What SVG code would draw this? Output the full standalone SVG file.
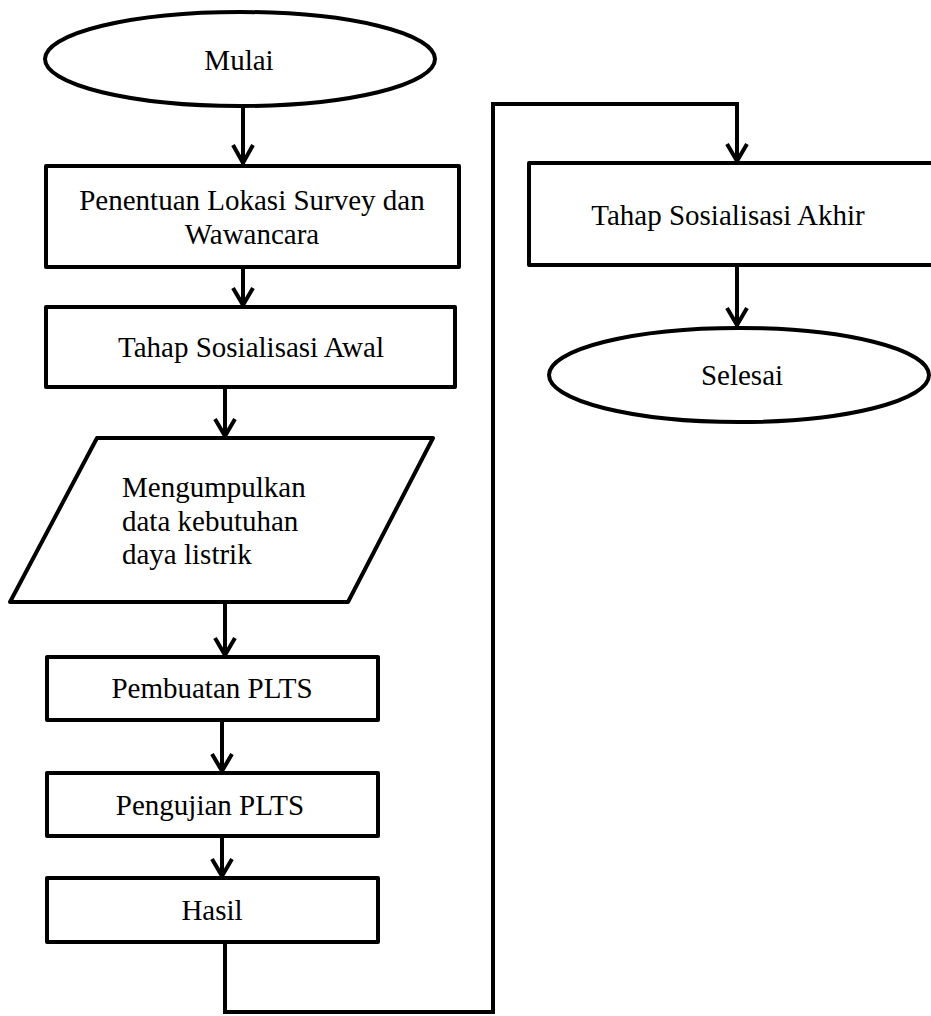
<svg xmlns="http://www.w3.org/2000/svg" width="931" height="1016" viewBox="0 0 931 1016">
<style>
.shape{fill:#fff;stroke:#000;stroke-width:4;stroke-linejoin:round}
.line{fill:none;stroke:#000;stroke-width:4}
.head{fill:none;stroke:#000;stroke-width:4;stroke-linejoin:miter}
.t{font-family:"Liberation Serif","Times New Roman",serif;font-size:29px;fill:#000}
.c{text-anchor:middle}
</style>
<rect width="931" height="1016" fill="#fff"/>
<g id="connectors">
<line class="line" x1="243" y1="107" x2="243" y2="164"/>
<polyline class="head" points="233,145 243,163 253,145"/>
<line class="line" x1="243" y1="267" x2="243" y2="306"/>
<polyline class="head" points="233,288 243,305 253,288"/>
<line class="line" x1="225" y1="387" x2="225" y2="437"/>
<polyline class="head" points="215,419 225,436 235,419"/>
<line class="line" x1="225" y1="602" x2="225" y2="656"/>
<polyline class="head" points="215,638 225,655 235,638"/>
<line class="line" x1="222" y1="720" x2="222" y2="772"/>
<polyline class="head" points="212,754 222,771 232,754"/>
<line class="line" x1="222" y1="836" x2="222" y2="877"/>
<polyline class="head" points="212,859 222,876 232,859"/>
<polyline class="line" points="225,942 225,1012 493,1012 493,104 737,104 737,162"/>
<polyline class="head" points="727,144 737,161 747,144"/>
<line class="line" x1="737" y1="265" x2="737" y2="327"/>
<polyline class="head" points="727,308 737,325 747,308"/>
</g>
<g id="mulai">
<ellipse class="shape" cx="240" cy="59" rx="195" ry="47"/>
<text class="t c" x="239" y="70">Mulai</text>
</g>
<g id="penentuan">
<rect class="shape" x="46" y="166" width="413" height="101"/>
<text class="t c" x="252" y="210">Penentuan Lokasi Survey dan</text>
<text class="t c" x="252" y="244">Wawancara</text>
</g>
<g id="sosialisasi-awal">
<rect class="shape" x="46" y="307" width="409" height="80"/>
<text class="t c" x="251" y="357">Tahap Sosialisasi Awal</text>
</g>
<g id="mengumpulkan">
<polygon class="shape" points="97,438 433,438 348,602 10,602"/>
<text class="t" x="122" y="497">Mengumpulkan</text>
<text class="t" x="122" y="531">data kebutuhan</text>
<text class="t" x="122" y="564">daya listrik</text>
</g>
<g id="pembuatan">
<rect class="shape" x="47" y="657" width="331" height="63"/>
<text class="t c" x="212" y="698">Pembuatan PLTS</text>
</g>
<g id="pengujian">
<rect class="shape" x="47" y="773" width="331" height="63"/>
<text class="t c" x="210" y="815">Pengujian PLTS</text>
</g>
<g id="hasil">
<rect class="shape" x="47" y="878" width="331" height="64"/>
<text class="t c" x="212" y="920">Hasil</text>
</g>
<g id="sosialisasi-akhir">
<rect class="shape" x="529" y="163" width="410" height="102"/>
<text class="t c" x="728" y="225">Tahap Sosialisasi Akhir</text>
</g>
<g id="selesai">
<ellipse class="shape" cx="739" cy="375" rx="190" ry="47"/>
<text class="t c" x="742" y="385">Selesai</text>
</g>
</svg>
